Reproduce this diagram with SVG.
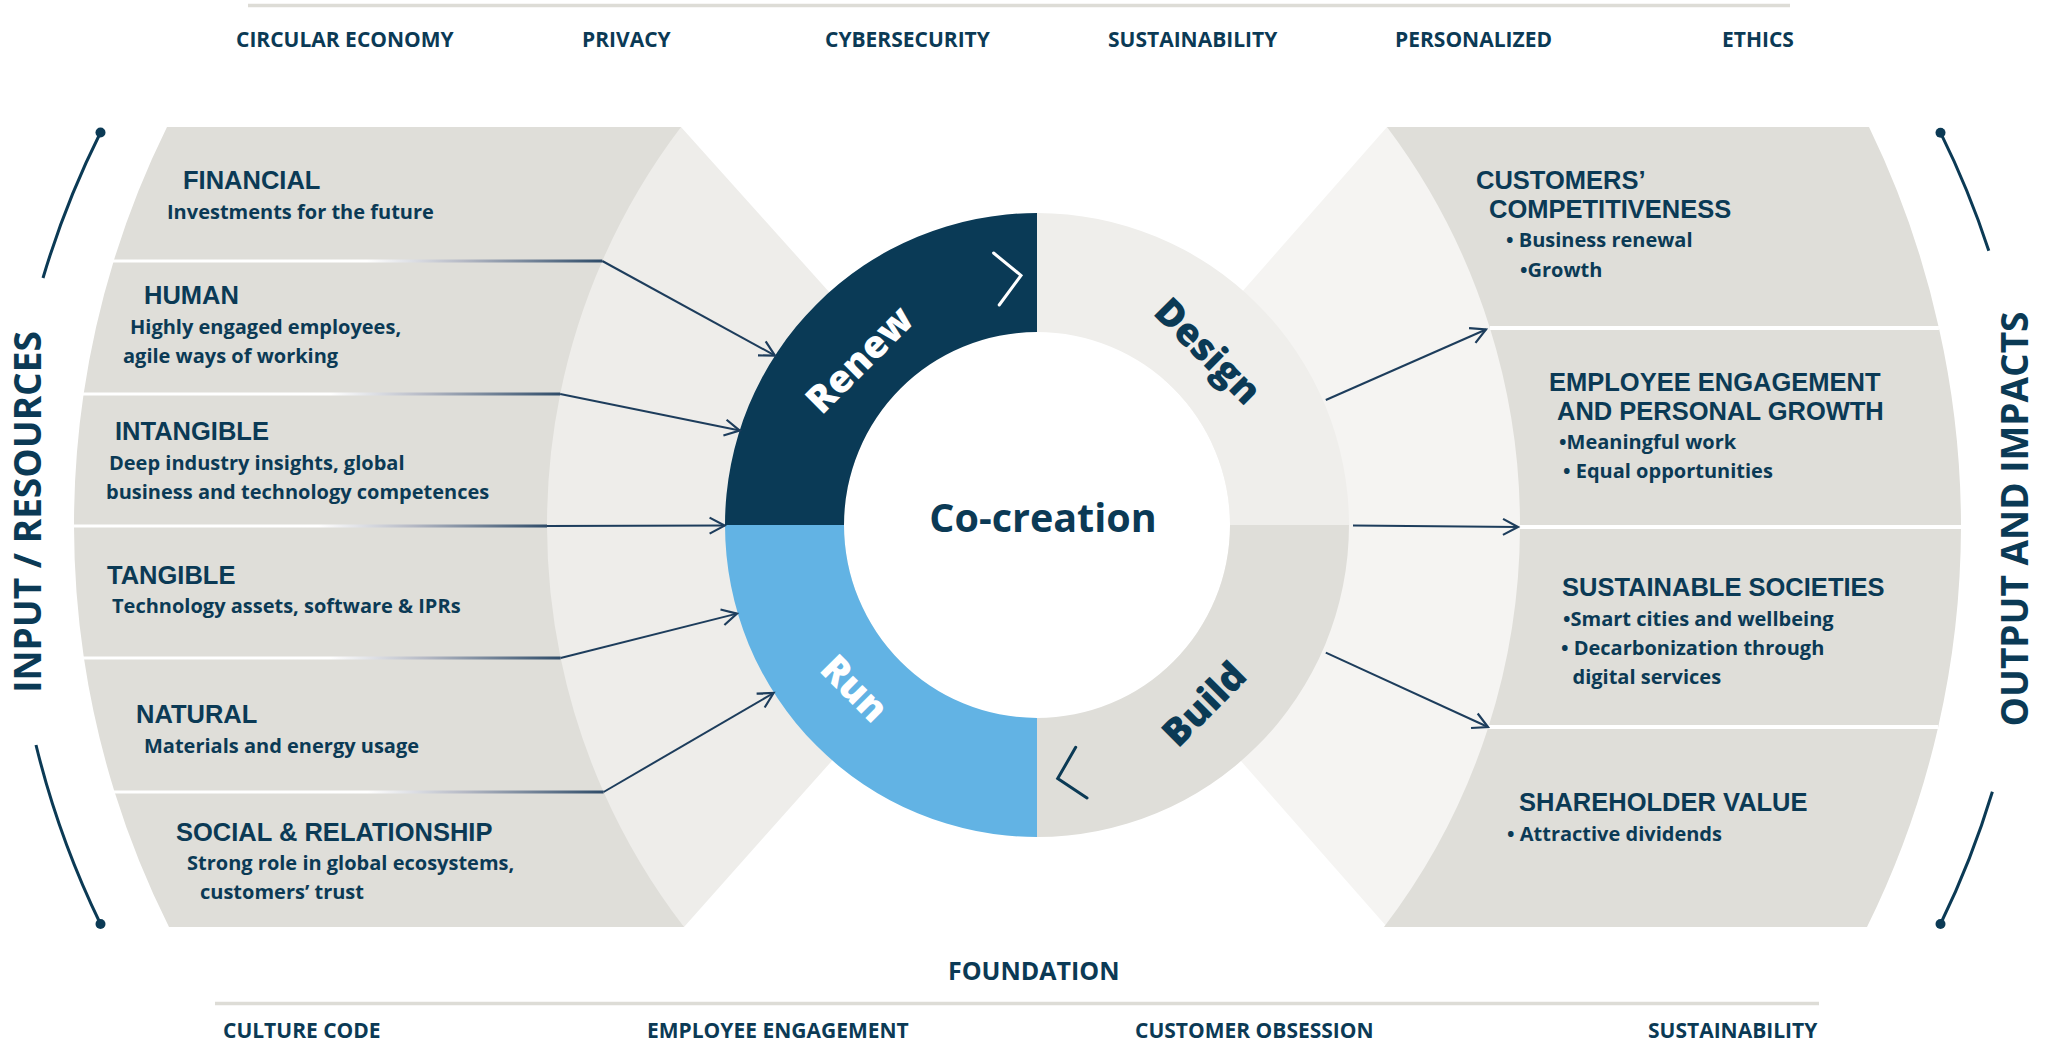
<svg xmlns="http://www.w3.org/2000/svg" width="2048" height="1043" viewBox="0 0 2048 1043">
<style>
.t{font-family:"Open Sans","Liberation Sans",sans-serif;fill:#0b3a55}
.ttl{font-family:"Liberation Sans","Open Sans",sans-serif;font-weight:700;font-size:25.5px}
.sub{font-weight:700;font-size:20px}
.lbl{font-weight:700;font-size:21px}
.fnd{font-weight:700;font-size:25px}
.side{font-weight:700;font-size:37px}
.seg{font-weight:800;font-size:38px}
.cc{font-weight:700;font-size:39.5px}
.box{fill:#dfded9}
.cn{fill:none;stroke:#1d3d5c;stroke-width:2;marker-end:url(#arr)}
.brk{fill:none;stroke:#0b3a55;stroke-width:3}
.rule{stroke:#dddcd6;stroke-width:3.5}
.wsep{stroke:#ffffff;stroke-width:4}
</style>
<defs>
<marker id="arr" viewBox="-17 -11 20 22" refX="0" refY="0" markerWidth="20" markerHeight="22" orient="auto" markerUnits="userSpaceOnUse">
<path d="M-15 -8 L0 0 L-15 8" fill="none" stroke="#1d3d5c" stroke-width="2.2"/>
</marker>
<linearGradient id="sepG" x1="0" y1="0" x2="1" y2="0">
<stop offset="0" stop-color="#ffffff"/>
<stop offset="0.52" stop-color="#ffffff"/>
<stop offset="0.72" stop-color="#b4b8c4"/>
<stop offset="1" stop-color="#2e4b68"/>
</linearGradient>
</defs>
<rect width="2048" height="1043" fill="#ffffff"/>

<line class="rule" x1="248" y1="5.5" x2="1790" y2="5.5"/>
<line class="rule" x1="215" y1="1003.5" x2="1819" y2="1003.5"/>

<g id="top-labels">
<text class="t lbl" x="236" y="46.5">CIRCULAR ECONOMY</text>
<text class="t lbl" x="582" y="46.5">PRIVACY</text>
<text class="t lbl" x="825" y="46.5">CYBERSECURITY</text>
<text class="t lbl" x="1108" y="46.5">SUSTAINABILITY</text>
<text class="t lbl" x="1395" y="46.5">PERSONALIZED</text>
<text class="t lbl" x="1722" y="46.5">ETHICS</text>
</g>

<g id="foundation">
<text class="t fnd" x="948" y="980">FOUNDATION</text>
<text class="t lbl" x="223" y="1038">CULTURE CODE</text>
<text class="t lbl" x="647" y="1038">EMPLOYEE ENGAGEMENT</text>
<text class="t lbl" x="1135" y="1038">CUSTOMER OBSESSION</text>
<text class="t lbl" x="1648" y="1038">SUSTAINABILITY</text>
</g>

<path d="M681 127 L1040 527 L684 927 L300 927 L300 127 Z" fill="#eeedea"/>
<path d="M1387 127 L1035 527 L1387 927 L1700 927 L1700 127 Z" fill="#f5f4f2"/>

<g id="input-resources">
<path class="brk" d="M100.5 132.5 A892 892 0 0 0 43 278"/>
<path class="brk" d="M36 745 A892 892 0 0 0 100.5 924"/>
<circle cx="100.5" cy="132.5" r="5" fill="#0b3a55"/>
<circle cx="100.5" cy="924" r="5" fill="#0b3a55"/>
<text class="t side" text-anchor="middle" transform="translate(41 512) rotate(-90)">INPUT / RESOURCES</text>
</g>
<g id="output-impacts">
<path class="brk" d="M1940.5 132.7 A890 890 0 0 1 1988.8 250.7"/>
<path class="brk" d="M1992.4 791.7 A890 890 0 0 1 1940.5 924"/>
<circle cx="1940.5" cy="132.7" r="5" fill="#0b3a55"/>
<circle cx="1940.5" cy="924" r="5" fill="#0b3a55"/>
<text class="t side" text-anchor="middle" transform="translate(2028 519) rotate(-90)">OUTPUT AND IMPACTS</text>
</g>

<g id="financial">
<path class="box" d="M167 127 L681 127 A658 658 0 0 0 602.3 261 L113.7 261 A898 898 0 0 1 167 127 Z"/>
<text class="t ttl" x="183" y="189">FINANCIAL</text>
<text class="t sub" x="167" y="219">Investments for the future</text>
</g>
<g id="human">
<path class="box" d="M113.7 261 L602.3 261 A658 658 0 0 0 560.2 394 L83.6 394 A898 898 0 0 1 113.7 261 Z"/>
<text class="t ttl" x="144" y="304">HUMAN</text>
<text class="t sub" x="130" y="334">Highly engaged employees,</text>
<text class="t sub" x="123" y="363">agile ways of working</text>
</g>
<g id="intangible">
<path class="box" d="M83.6 394 L560.2 394 A658 658 0 0 0 547 526 L74 526 A898 898 0 0 1 83.6 394 Z"/>
<text class="t ttl" x="115" y="440">INTANGIBLE</text>
<text class="t sub" x="109" y="470">Deep industry insights, global</text>
<text class="t sub" x="106" y="499">business and technology competences</text>
</g>
<g id="tangible">
<path class="box" d="M74 526 L547 526 A658 658 0 0 0 560.6 658 L83.9 658 A898 898 0 0 1 74 526 Z"/>
<text class="t ttl" x="107" y="584">TANGIBLE</text>
<text class="t sub" x="112" y="613">Technology assets, software &amp; IPRs</text>
</g>
<g id="natural">
<path class="box" d="M83.9 658 L560.6 658 A658 658 0 0 0 603.6 792 L114.6 792 A898 898 0 0 1 83.9 658 Z"/>
<text class="t ttl" x="136" y="723">NATURAL</text>
<text class="t sub" x="144" y="753">Materials and energy usage</text>
</g>
<g id="social-relationship">
<path class="box" d="M114.6 792 L603.6 792 A658 658 0 0 0 684 927 L169 927 A898 898 0 0 1 114.6 792 Z"/>
<text class="t ttl" x="176" y="841">SOCIAL &amp; RELATIONSHIP</text>
<text class="t sub" x="187" y="870">Strong role in global ecosystems,</text>
<text class="t sub" x="200" y="899">customers’ trust</text>
</g>

<g id="customers-competitiveness">
<path class="box" d="M1387 127 L1869 127 A907 907 0 0 1 1938.9 328 L1489.9 328 A662 662 0 0 0 1387 127 Z"/>
<text class="t ttl" x="1476" y="189">CUSTOMERS’</text>
<text class="t ttl" x="1489" y="218">COMPETITIVENESS</text>
<text class="t sub" x="1506" y="247">• Business renewal</text>
<text class="t sub" x="1520" y="277">•Growth</text>
</g>
<g id="employee-engagement">
<path class="box" d="M1489.9 328 L1938.9 328 A907 907 0 0 1 1961 527 L1520 527 A662 662 0 0 0 1489.9 328 Z"/>
<text class="t ttl" x="1549" y="390.5">EMPLOYEE ENGAGEMENT</text>
<text class="t ttl" x="1557" y="419.5">AND PERSONAL GROWTH</text>
<text class="t sub" x="1559" y="448.5">•Meaningful work</text>
<text class="t sub" x="1563" y="478">• Equal opportunities</text>
</g>
<g id="sustainable-societies">
<path class="box" d="M1520 527 L1961 527 A907 907 0 0 1 1938.2 727 L1488.4 727 A662 662 0 0 0 1520 527 Z"/>
<text class="t ttl" x="1562" y="596">SUSTAINABLE SOCIETIES</text>
<text class="t sub" x="1563" y="626">•Smart cities and wellbeing</text>
<text class="t sub" x="1561" y="655">• Decarbonization through</text>
<text class="t sub" x="1572.5" y="684">digital services</text>
</g>
<g id="shareholder-value">
<path class="box" d="M1488.4 727 L1938.2 727 A907 907 0 0 1 1867 927 L1384 927 A662 662 0 0 0 1488.4 727 Z"/>
<text class="t ttl" x="1519" y="811">SHAREHOLDER VALUE</text>
<text class="t sub" x="1507" y="841">• Attractive dividends</text>
</g>
<g id="right-separators">
<line class="wsep" x1="1489.9" y1="328" x2="1938.9" y2="328"/>
<line class="wsep" x1="1520" y1="527" x2="1961" y2="527"/>
<line class="wsep" x1="1488.4" y1="727" x2="1938.2" y2="727"/>
</g>

<g id="co-creation">
<circle cx="1037" cy="525" r="193" fill="#ffffff"/>
<text class="t cc" x="1043" y="532" text-anchor="middle">Co-creation</text>
</g>
<g id="renew">
<path d="M725 525 A312 312 0 0 1 1037 213 L1037 332 A193 193 0 0 0 844 525 Z" fill="#0a3a56"/>
<path d="M993.6 253 L1021 275.4 L999.2 305" fill="none" stroke="#ffffff" stroke-width="3" stroke-linecap="round"/>
<text class="t seg" style="fill:#ffffff" text-anchor="middle" transform="translate(861 361) rotate(-45)" y="11">Renew</text>
</g>
<g id="design">
<path d="M1037 213 A312 312 0 0 1 1349 525 L1230 525 A193 193 0 0 0 1037 332 Z" fill="#efeeeb"/>
<text class="t seg" text-anchor="middle" transform="translate(1207 352) rotate(45)" y="12">Design</text>
</g>
<g id="build">
<path d="M1349 525 A312 312 0 0 1 1037 837 L1037 718 A193 193 0 0 0 1230 525 Z" fill="#dfded9"/>
<path d="M1075.7 747.3 L1057.7 778.5 L1087 798" fill="none" stroke="#0b3a55" stroke-width="3" stroke-linecap="round"/>
<text class="t seg" text-anchor="middle" transform="translate(1205 705) rotate(-45)" y="12">Build</text>
</g>
<g id="run">
<path d="M1037 837 A312 312 0 0 1 725 525 L844 525 A193 193 0 0 0 1037 718 Z" fill="#62b3e4"/>
<text class="t seg" style="fill:#ffffff" text-anchor="middle" transform="translate(853 690) rotate(45)" y="11">Run</text>
</g>

<g id="connectors">
<rect x="112" y="259.5" width="490.3" height="3" fill="url(#sepG)"/>
<rect x="82" y="392.5" width="478.2" height="3" fill="url(#sepG)"/>
<rect x="72" y="524.5" width="475" height="3" fill="url(#sepG)"/>
<rect x="82" y="656.5" width="478.6" height="3" fill="url(#sepG)"/>
<rect x="113" y="790.5" width="490.6" height="3" fill="url(#sepG)"/>
<path class="cn" d="M602.3 261 L775 355.6"/>
<path class="cn" d="M560.2 394 L739.7 430.6"/>
<path class="cn" d="M547 526 L724.6 525.6"/>
<path class="cn" d="M560.6 658 L737 613.6"/>
<path class="cn" d="M603.6 792 L773.6 693"/>
<path class="cn" d="M1325.8 400 L1486 329.5"/>
<path class="cn" d="M1353 525.6 L1518 527"/>
<path class="cn" d="M1325.8 652.7 L1488 727"/>
</g>
</svg>
